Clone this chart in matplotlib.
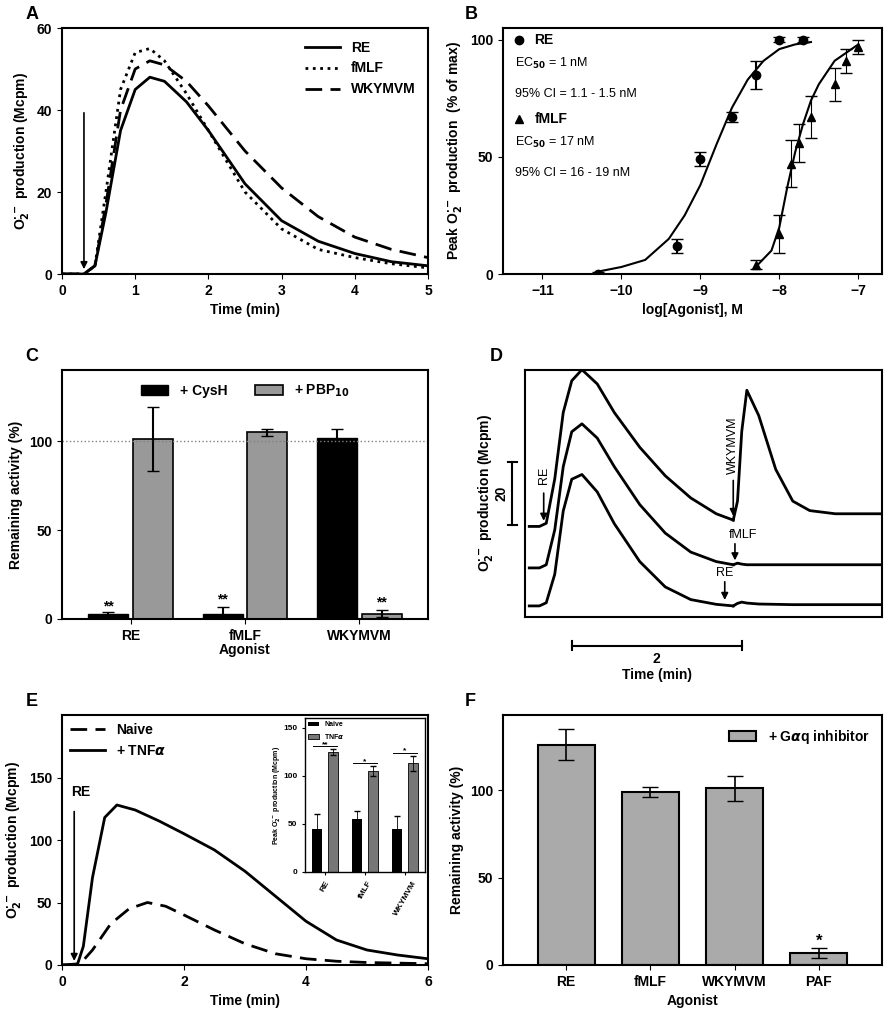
import matplotlib
matplotlib.use("Agg")
import matplotlib.pyplot as plt
import numpy as np

plt.rcParams['font.family'] = ['Liberation Sans', 'DejaVu Sans']
plt.rcParams['font.weight'] = 'bold'
plt.rcParams['axes.labelweight'] = 'bold'
plt.rcParams['axes.linewidth'] = 1.5
plt.rcParams['font.size'] = 10

# ---- Panel A data ----
tA = [0, 0.3, 0.45, 0.6, 0.8, 1.0, 1.2, 1.4, 1.7, 2, 2.5, 3, 3.5, 4, 4.5, 5]
A_RE = [0, 0, 2, 15, 35, 45, 48, 47, 42, 35, 22, 13, 8, 5, 3, 2]
A_fMLF = [0, 0, 2, 20, 45, 54, 55, 52, 44, 35, 20, 11, 6, 4, 2.5, 1.5]
A_WKY = [0, 0, 2, 17, 40, 50, 52, 51, 47, 41, 30, 21, 14, 9, 6, 4]

# ---- Panel B data ----
B_RE_x = [-10.3, -9.3, -9.0, -8.6, -8.3, -8.0, -7.7]
B_RE_y = [0, 12, 49, 67, 85, 100, 100]
B_RE_e = [1, 3, 3, 2, 6, 1, 1]
B_RE_fit_x = [-10.3, -10.0, -9.7, -9.4, -9.2, -9.0, -8.8, -8.6, -8.4, -8.2, -8.0, -7.8, -7.6]
B_RE_fit_y = [1, 3, 6, 15, 25, 38, 55, 71, 83, 91, 96, 98, 99]
B_f_x = [-8.3, -8.0, -7.85, -7.75, -7.6, -7.3, -7.15, -7.0]
B_f_y = [4, 17, 47, 56, 67, 81, 91, 97]
B_f_e = [2, 8, 10, 8, 9, 7, 5, 3]
B_f_fit_x = [-8.3, -8.1, -8.0, -7.9, -7.8, -7.7, -7.6, -7.5, -7.3, -7.0]
B_f_fit_y = [3, 10, 20, 37, 52, 64, 74, 81, 91, 98]

# ---- Panel C data ----
C_cats = ['RE', 'fMLF', 'WKYMVM']
C_cys = [3, 3, 102]
C_cys_e = [1, 4, 5]
C_pbp = [101, 105, 3]
C_pbp_e = [18, 2, 2]

# ---- Panel D data (time min, delta Mcpm above baseline) ----
D_t = [0.0, 0.12, 0.2, 0.3, 0.4, 0.5, 0.62, 0.8, 1.0, 1.3, 1.6, 1.9, 2.2, 2.4]
D_bot = [0, 0, 1, 10, 30, 40, 41.5, 36, 26, 14, 6, 2, 0.5, 0]
D_mid = [0, 0, 1, 12, 32, 43, 45.5, 41, 32, 20, 11, 5, 2, 1]
D_top = [0, 0, 1, 15, 36, 46, 49.5, 45, 36, 25, 16, 9, 4, 2]
D_t2 = [2.4, 2.45, 2.5, 2.56, 2.7, 2.9, 3.1, 3.3, 3.6, 4.15]
D_top2 = [2, 8, 30, 43, 35, 18, 8, 5, 4, 4]
D_mid2 = [1, 1.5, 1.2, 1, 1, 1, 1, 1, 1, 1]
D_bot2 = [0, 0.8, 1.2, 0.9, 0.6, 0.5, 0.4, 0.4, 0.4, 0.4]
D_base = [3.5, 15.5, 28.6]

# ---- Panel E data ----
tE = [0, 0.25, 0.35, 0.5, 0.7, 0.9, 1.2, 1.6, 2, 2.5, 3, 3.5, 4, 4.5, 5, 5.5, 6]
E_TNF = [0, 0, 15, 70, 118, 128, 124, 115, 105, 92, 75, 55, 35, 20, 12, 8, 5]
tE2 = [0, 0.3, 0.5, 0.8, 1.1, 1.4, 1.7, 2, 2.5, 3, 3.5, 4, 4.5, 5, 6]
E_naive = [0, 1, 12, 33, 45, 50, 47, 40, 28, 17, 9, 5, 3, 2, 1]
Ei_cats = ['RE', 'fMLF', 'WKYMVM']
Ei_naive = [45, 55, 45]
Ei_naive_e = [15, 8, 13]
Ei_tnf = [125, 105, 113]
Ei_tnf_e = [3, 5, 8]

# ---- Panel F data ----
F_cats = ['RE', 'fMLF', 'WKYMVM', 'PAF']
F_vals = [126, 99, 101, 7]
F_err = [9, 3, 7, 3]

W, H = 894, 1024
fig = plt.figure(figsize=(W/100, H/100), dpi=100)

def ax_px(x0, y0, x1, y1):
    return fig.add_axes([x0/W, 1 - y1/H, (x1-x0)/W, (y1-y0)/H])

def label(ax, s):
    ax.text(-0.1, 1.02, s, transform=ax.transAxes, fontsize=13, fontweight='bold', va='bottom')

O2 = r'O$_2^{\bullet-}$ production (Mcpm)'

# A
ax = ax_px(62, 28, 428, 274)
ax.plot(tA, A_RE, 'k-', lw=2, label='RE')
ax.plot(tA, A_fMLF, 'k:', lw=2, label='fMLF')
ax.plot(tA, A_WKY, 'k--', lw=2, dashes=(6, 3), label='WKYMVM')
ax.set_xlim(0, 5); ax.set_ylim(0, 60)
ax.set_xticks(range(6)); ax.set_yticks([0, 20, 40, 60])
ax.set_xlabel('Time (min)'); ax.set_ylabel(O2)
ax.annotate('', xy=(0.3, 0.5), xytext=(0.3, 40), arrowprops=dict(arrowstyle='-|>', color='k', lw=1.2))
ax.legend(frameon=False, loc='upper right', handlelength=2.5)
label(ax, 'A')

# B
ax = ax_px(503, 28, 882, 274)
ax.plot(B_RE_fit_x, B_RE_fit_y, 'k-', lw=1.5)
ax.plot(B_f_fit_x, B_f_fit_y, 'k-', lw=1.5)
ax.errorbar(B_RE_x, B_RE_y, yerr=B_RE_e, fmt='o', color='k', ms=6, capsize=4, label='RE')
ax.errorbar(B_f_x, B_f_y, yerr=B_f_e, fmt='^', color='k', ms=6, capsize=4, label='fMLF', elinewidth=0.8)
ax.set_xlim(-11.5, -6.7); ax.set_ylim(0, 105)
ax.set_xticks([-11, -10, -9, -8, -7]); ax.set_yticks([0, 50, 100])
ax.set_xlabel('log[Agonist], M'); ax.set_ylabel(r'Peak O$_2^{\bullet-}$ production  (% of max)')
ax.plot([-11.3], [100], 'ko', ms=6); ax.text(-11.1, 100, 'RE', va='center', fontsize=10)
ax.text(-11.35, 90, r'EC$_{50}$ = 1 nM', va='center', fontsize=9, fontweight='normal')
ax.text(-11.35, 77, '95% CI = 1.1 - 1.5 nM', va='center', fontsize=9, fontweight='normal')
ax.plot([-11.3], [66], 'k^', ms=6); ax.text(-11.1, 66, 'fMLF', va='center', fontsize=10)
ax.text(-11.35, 56, r'EC$_{50}$ = 17 nM', va='center', fontsize=9, fontweight='normal')
ax.text(-11.35, 43, '95% CI = 16 - 19 nM', va='center', fontsize=9, fontweight='normal')
label(ax, 'B')

# C
ax = ax_px(62, 370, 428, 619)
x = np.arange(3)
w = 0.35
ax.bar(x - w/2 - 0.02, C_cys, w, yerr=C_cys_e, color='black', edgecolor='black', capsize=4, label='+ CysH')
ax.bar(x + w/2 + 0.02, C_pbp, w, yerr=C_pbp_e, color='#999999', edgecolor='black', lw=1.2, capsize=4, label=r'+ PBP$_{10}$')
ax.axhline(100, color='gray', ls=':', lw=1)
for xi, v in [(-w/2 - 0.02, 3), (1 - w/2 - 0.02, 7), (2 + w/2 + 0.02, 5)]:
    ax.text(xi, v + 2, '**', ha='center', fontsize=10)
ax.set_xlim(-0.6, 2.6); ax.set_ylim(0, 140)
ax.set_xticks(x); ax.set_xticklabels(C_cats); ax.set_yticks([0, 50, 100])
ax.set_xlabel('Agonist', labelpad=0); ax.set_ylabel('Remaining activity (%)')
ax.legend(frameon=False, loc='upper center', ncol=2, bbox_to_anchor=(0.5, 1.0))
label(ax, 'C')

# D
ax = ax_px(525, 370, 882, 617)
for base, d1, d2 in zip(D_base, [D_bot, D_mid, D_top], [D_bot2, D_mid2, D_top2]):
    ax.plot(D_t, np.array(d1) + base, 'k-', lw=2)
    ax.plot(D_t2, np.array(d2) + base, 'k-', lw=2)
ax.set_xlim(-0.05, 4.15); ax.set_ylim(0, 78)
ax.set_xticks([]); ax.set_yticks([])
ax.annotate('', xy=(0.17, 29.5), xytext=(0.17, 40), arrowprops=dict(arrowstyle='-|>', color='k', lw=1.2))
ax.text(0.17, 42, 'RE', rotation=90, ha='center', va='bottom', fontsize=9, fontweight='normal')
ax.annotate('', xy=(2.4, 31), xytext=(2.4, 44), arrowprops=dict(arrowstyle='-|>', color='k', lw=1.2))
ax.text(2.4, 45, 'WKYMVM', rotation=90, ha='center', va='bottom', fontsize=9, fontweight='normal')
ax.annotate('', xy=(2.42, 17), xytext=(2.42, 24), arrowprops=dict(arrowstyle='-|>', color='k', lw=1.2))
ax.text(2.35, 26, 'fMLF', fontsize=9, fontweight='normal', va='center')
ax.annotate('', xy=(2.3, 4.5), xytext=(2.3, 12), arrowprops=dict(arrowstyle='-|>', color='k', lw=1.2))
ax.text(2.3, 13, 'RE', fontsize=9, fontweight='normal', ha='center')
# scale bars
ax.plot([-0.2, -0.2], [29, 49], 'k-', lw=1.5, clip_on=False)
ax.plot([-0.25, -0.15], [49, 49], 'k-', lw=1.5, clip_on=False)
ax.plot([-0.25, -0.15], [29, 29], 'k-', lw=1.5, clip_on=False)
ax.text(-0.33, 39, '20', rotation=90, ha='center', va='center', fontsize=10)
ax.text(-0.52, 39, O2, rotation=90, ha='center', va='center', fontsize=10)
ax.plot([0.5, 2.5], [-9, -9], 'k-', lw=1.5, clip_on=False)
ax.plot([0.5, 0.5], [-10.5, -7.5], 'k-', lw=1.5, clip_on=False)
ax.plot([2.5, 2.5], [-10.5, -7.5], 'k-', lw=1.5, clip_on=False)
ax.text(1.5, -11, '2', ha='center', va='top', fontsize=10)
ax.text(1.5, -16, 'Time (min)', ha='center', va='top', fontsize=10)
label(ax, 'D')

# E
ax = ax_px(62, 715, 428, 965)
ax.plot(tE2, E_naive, 'k--', lw=2, dashes=(6, 3), label='Naive')
ax.plot(tE, E_TNF, 'k-', lw=2, label=r'+ TNF$\alpha$')
ax.set_xlim(0, 6); ax.set_ylim(0, 200)
ax.set_xticks([0, 2, 4, 6]); ax.set_yticks([0, 50, 100, 150])
ax.set_xlabel('Time (min)'); ax.set_ylabel(O2)
ax.annotate('', xy=(0.2, 1), xytext=(0.2, 125), arrowprops=dict(arrowstyle='-|>', color='k', lw=1.2))
ax.text(0.15, 135, 'RE', fontsize=10)
ax.legend(frameon=False, loc='upper left', handlelength=2.5, borderaxespad=0.2)
label(ax, 'E')

ai = ax_px(305, 718, 425, 872)
xi = np.arange(3)
ai.bar(xi - 0.2, Ei_naive, 0.25, yerr=Ei_naive_e, color='black', capsize=2, label='Naive', error_kw=dict(lw=0.6))
ai.bar(xi + 0.2, Ei_tnf, 0.25, yerr=Ei_tnf_e, color='#777777', edgecolor='black', lw=0.6, capsize=2, label=r'TNF$\alpha$', error_kw=dict(lw=0.6))
for k, s in enumerate(['**', '*', '*']):
    top = Ei_tnf[k] + Ei_tnf_e[k] + 3
    ai.plot([k - 0.3, k + 0.3], [top, top], 'k-', lw=0.7)
    ai.text(k, top, s, ha='center', fontsize=6)
ai.set_ylim(0, 160); ai.set_xlim(-0.5, 2.5)
ai.set_yticks([0, 50, 100, 150]); ai.set_xticks(xi)
ai.set_xticklabels(Ei_cats, rotation=60, fontsize=6)
ai.tick_params(labelsize=6, length=2, width=0.8)
for s in ai.spines.values(): s.set_linewidth(1)
ai.set_ylabel(r'Peak O$_2^{\bullet-}$ production (Mcpm)', fontsize=5, labelpad=1)
ai.legend(frameon=False, loc='upper left', fontsize=5, handlelength=1.5, borderaxespad=0.1)

# F
ax = ax_px(503, 715, 882, 965)
xf = np.arange(4)
ax.bar(xf, F_vals, 0.68, yerr=F_err, color='#aaaaaa', edgecolor='black', lw=1.5, capsize=6,
       error_kw=dict(lw=1.2), label=r'+ G$\alpha$q inhibitor')
ax.text(3, F_vals[3] + F_err[3] + 1, '*', ha='center', fontsize=12)
ax.set_xlim(-0.75, 3.75); ax.set_ylim(0, 143)
ax.set_xticks(xf); ax.set_xticklabels(F_cats); ax.set_yticks([0, 50, 100])
ax.set_xlabel('Agonist'); ax.set_ylabel('Remaining activity (%)')
ax.legend(frameon=False, loc='upper right')
label(ax, 'F')

fig.savefig('out.png', dpi=100)
